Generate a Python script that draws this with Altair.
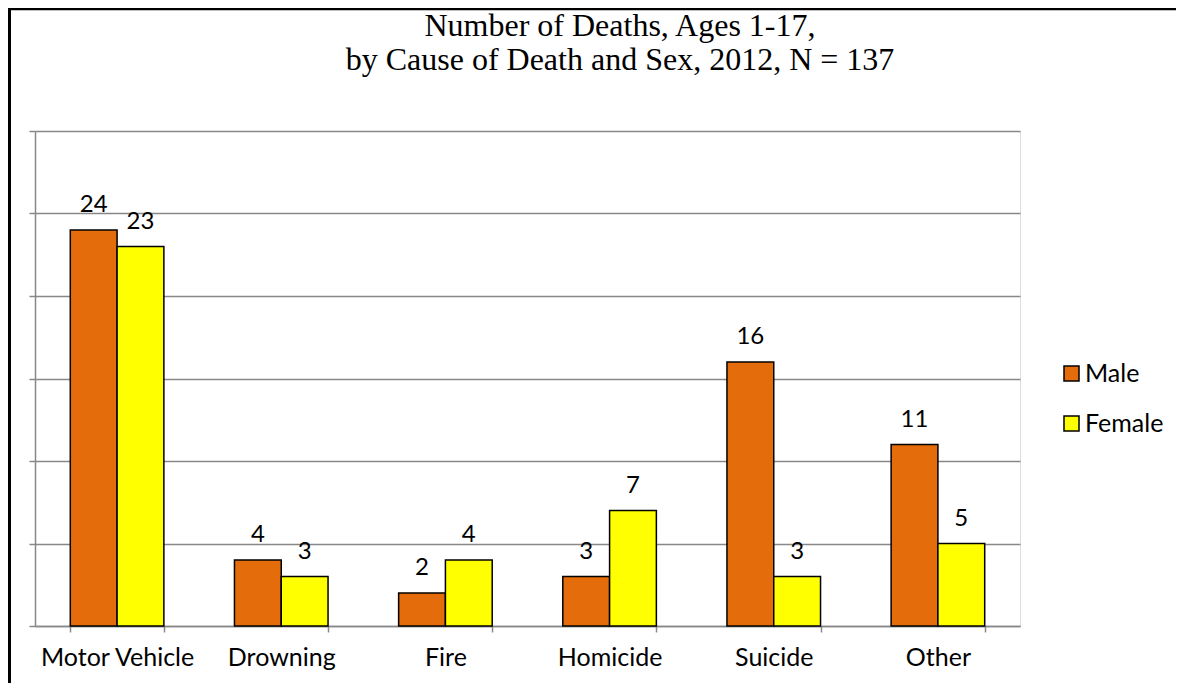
import altair as alt
import pandas as pd

causes = ["Motor Vehicle", "Drowning", "Fire", "Homicide", "Suicide", "Other"]
male = [24, 4, 2, 3, 16, 11]
female = [23, 3, 4, 7, 3, 5]
sexes = ["Male", "Female"]
colors = ["#E46C0A", "#FFFF00"]
y_ticks = [0, 5, 10, 15, 20, 25, 30]
title_lines = ["Number of Deaths, Ages 1-17,", "by Cause of Death and Sex, 2012, N = 137"]

rows = []
for c, m, f in zip(causes, male, female):
    rows.append({"Cause": c, "Sex": "Male", "Deaths": m})
    rows.append({"Cause": c, "Sex": "Female", "Deaths": f})
df = pd.DataFrame(rows)
one = alt.Data(values=[{"k": 1}])

LABEL_FONT = "Lato"
GRID = "#888888"

x_enc = alt.X(
    "Cause:N",
    sort=causes,
    title=None,
    scale=alt.Scale(paddingInner=0.43, paddingOuter=0.215),
    axis=alt.Axis(
        labelFont=LABEL_FONT,
        labelFontSize=25,
        labelColor="black",
        labelAngle=0,
        labelPadding=13,
        tickBand="extent",
        tickSize=6,
        tickColor=GRID,
        tickWidth=1.5,
        domainColor=GRID,
        domainWidth=1.5,
        grid=False,
    ),
)
y_enc = alt.Y(
    "Deaths:Q",
    title=None,
    scale=alt.Scale(domain=[0, 30], nice=False),
    axis=alt.Axis(
        values=y_ticks,
        labels=False,
        tickSize=6,
        tickColor=GRID,
        tickWidth=1.5,
        domainColor=GRID,
        domainWidth=1.5,
        grid=True,
        gridColor=GRID,
        gridWidth=1.5,
    ),
)
xoff = alt.XOffset("Sex:N", sort=sexes, scale=alt.Scale(paddingInner=0, paddingOuter=0))

bars = alt.Chart(df).mark_bar(stroke="black", strokeWidth=1.5).encode(
    x=x_enc,
    y=y_enc,
    xOffset=xoff,
    color=alt.Color(
        "Sex:N",
        sort=sexes,
        scale=alt.Scale(domain=sexes, range=colors),
        legend=alt.Legend(
            title=None,
            orient="none",
            legendX=1024,
            legendY=230,
            symbolType="square",
            symbolSize=225,
            symbolStrokeColor="black",
            symbolStrokeWidth=1.5,
            labelFont=LABEL_FONT,
            labelFontSize=25,
            labelColor="black",
            labelOffset=1,
            rowPadding=24,
        ),
    ),
)

labels = alt.Chart(df).mark_text(
    baseline="alphabetic", dy=-18, font=LABEL_FONT, fontSize=24, color="black"
).encode(x=alt.X("Cause:N", sort=causes), y="Deaths:Q", xOffset=xoff, text="Deaths:Q")

title1 = alt.Chart(one).mark_text(
    text=title_lines[0], font="Liberation Serif", fontSize=32, color="black",
    baseline="alphabetic", align="center"
).encode(x=alt.value(585), y=alt.value(-95))
title2 = alt.Chart(one).mark_text(
    text=title_lines[1], font="Liberation Serif", fontSize=32, color="black",
    baseline="alphabetic", align="center"
).encode(x=alt.value(585), y=alt.value(-61))

border_left = alt.Chart(one).mark_rule(color="black", strokeWidth=3).encode(
    x=alt.value(-25.5), y=alt.value(-122), y2=alt.value(600)
)
border_top = alt.Chart(one).mark_rule(color="black", strokeWidth=2.5).encode(
    x=alt.value(-27), x2=alt.value(1200), y=alt.value(-122)
)

chart = (
    alt.layer(bars, labels, title1, title2, border_left, border_top)
    .properties(
        width=985,
        height=495,
        autosize=alt.AutoSizeParams(type="none"),
        padding={"left": 27, "top": 123, "right": 156, "bottom": 57},
    )
    .configure_view(stroke=None)
    .configure(background="white")
)

chart.save("out.html", embed_options={"renderer": "svg", "actions": False})
